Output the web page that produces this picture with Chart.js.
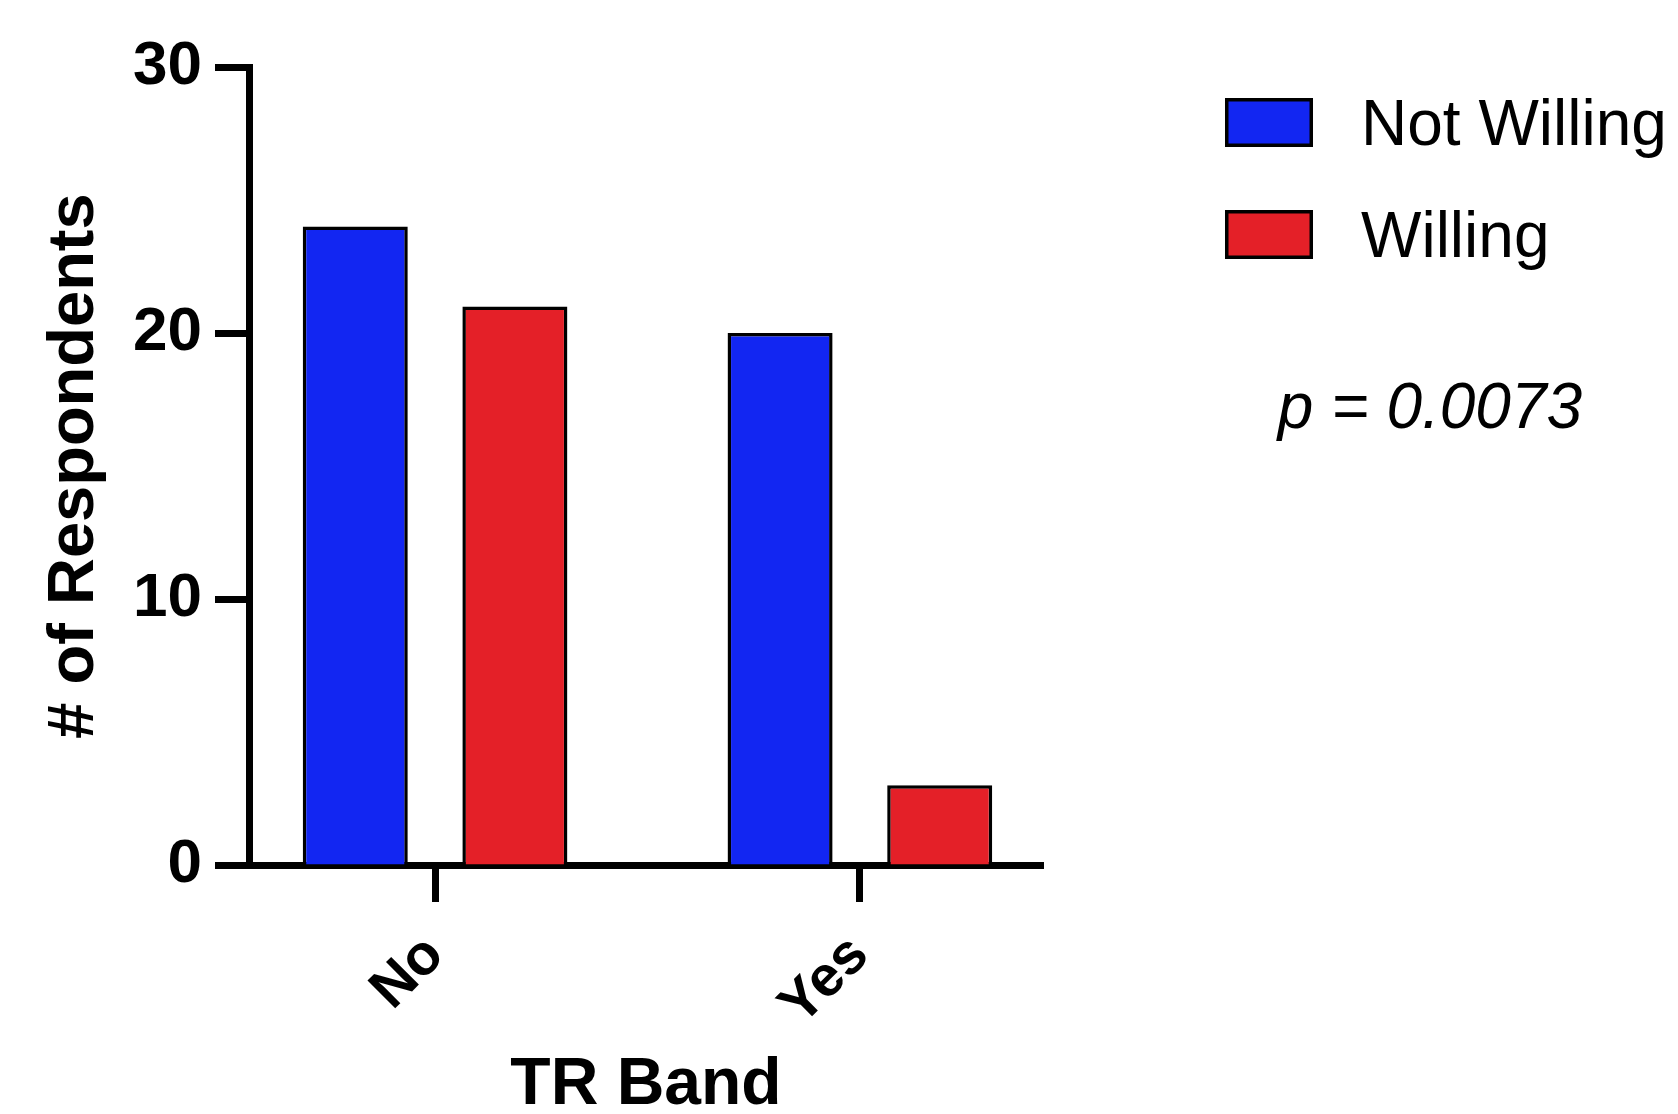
<!DOCTYPE html>
<html>
<head>
<meta charset="utf-8">
<script src="https://cdn.jsdelivr.net/npm/chart.js@4"></script>
<style>
  html, body { margin: 0; padding: 0; background: #fff; }
  canvas { display: block; }
</style>
</head>
<body>
<canvas id="chart" width="1678" height="1114"></canvas>
<script>
// data
const categories = ['No', 'Yes'];
const notWilling = [24, 20];
const willing = [21, 3];
const seriesLabels = ['Not Willing', 'Willing'];
const yTicks = [0, 10, 20, 30];
const xTitle = 'TR Band';
const yTitle = '# of Respondents';
const pValueText = 'p = 0.0073';

const FONT = "'Liberation Sans', Arial, Helvetica, sans-serif";

// legend + p value drawn next to the plot
const sideNotes = {
  id: 'sideNotes',
  afterDraw(chart) {
    const ctx = chart.ctx;
    ctx.save();
    chart.data.datasets.forEach((ds, i) => {
      const top = 98 + i * 112;
      ctx.fillStyle = '#000';
      ctx.fillRect(1225, top, 88, 49);
      ctx.fillStyle = ds.backgroundColor;
      ctx.fillRect(1228.5, top + 3.5, 81, 42);
      ctx.fillStyle = '#000';
      ctx.font = '64px ' + FONT;
      ctx.textAlign = 'left';
      ctx.textBaseline = 'alphabetic';
      ctx.fillText(ds.label, 1361, 145 + i * 112);
    });
    ctx.font = 'italic 64px ' + FONT;
    ctx.textAlign = 'center';
    ctx.fillText(pValueText, 1430, 428);
    ctx.restore();
  }
};

const ctx = document.getElementById('chart').getContext('2d');
new Chart(ctx, {
  type: 'bar',
  data: {
    datasets: [
      {
        label: seriesLabels[0],
        data: categories.map((c, i) => ({ x: i, y: notWilling[i] })),
        backgroundColor: '#1226F2',
        borderColor: '#000',
        borderWidth: 3.5,
      },
      {
        label: seriesLabels[1],
        data: categories.map((c, i) => ({ x: i, y: willing[i] })),
        backgroundColor: '#E42028',
        borderColor: '#000',
        borderWidth: 3.5,
      },
    ],
  },
  options: {
    responsive: false,
    animation: false,
    categoryPercentage: 0.7515,
    barPercentage: 0.658,
    layout: { padding: { left: 0, top: 67, right: 635, bottom: 0 } },
    plugins: {
      legend: { display: false },
      tooltip: { enabled: false },
    },
    scales: {
      x: {
        type: 'linear',
        offset: false,
        min: -0.438,
        max: 1.431,
        afterBuildTicks: (scale) => {
          scale.ticks = categories.map((c, i) => ({ value: i }));
        },
        afterFit: (scale) => { scale.height = 249; },
        ticks: {
          callback: (v) => categories[v],
          maxRotation: 45,
          minRotation: 45,
          padding: 20,
          color: '#000',
          font: { family: FONT, size: 57, weight: 'bold' },
        },
        grid: {
          offset: false,
          drawOnChartArea: false,
          tickLength: 37,
          tickWidth: 7,
          tickColor: '#000',
        },
        border: { display: true, color: '#000', width: 7 },
        title: {
          display: true,
          text: xTitle,
          color: '#000',
          padding: 0,
          font: { family: FONT, size: 66, weight: 'bold', lineHeight: 0.86 },
        },
      },
      y: {
        min: 0,
        max: 30,
        afterBuildTicks: (scale) => {
          scale.ticks = yTicks.map(v => ({ value: v }));
        },
        afterFit: (scale) => { scale.width = 249; },
        ticks: {
          padding: 13,
          color: '#000',
          font: { family: FONT, size: 62, weight: 'bold' },
        },
        grid: {
          drawOnChartArea: false,
          tickLength: 34,
          tickWidth: 7,
          tickColor: '#000',
        },
        border: { display: true, color: '#000', width: 7 },
        title: {
          display: true,
          text: yTitle,
          color: '#000',
          padding: { top: 36 },
          font: { family: FONT, size: 65, weight: 'bold' },
        },
      },
    },
  },
  plugins: [sideNotes],
});
</script>
</body>
</html>
